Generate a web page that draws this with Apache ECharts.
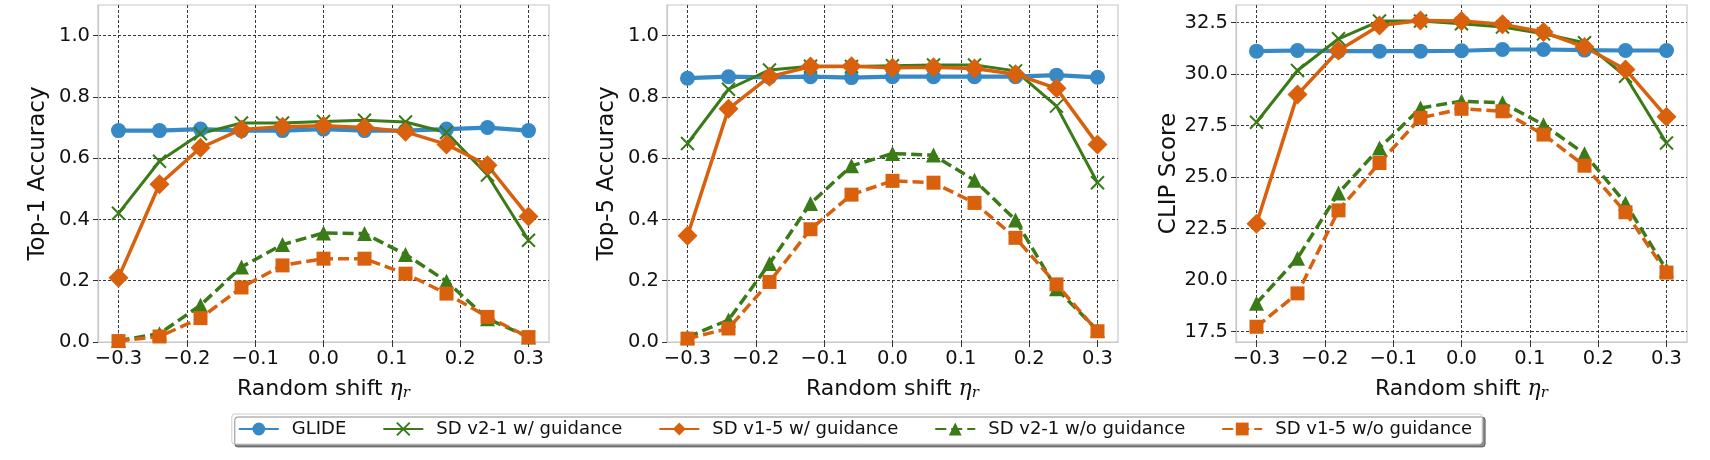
<!DOCTYPE html>
<html>
<head>
<meta charset="utf-8">
<script src="https://cdn.jsdelivr.net/npm/echarts@6/dist/echarts.min.js"></script>
<style>
html,body{margin:0;padding:0;background:#fff}
#main{width:1710px;height:460px}
</style>
</head>
<body>
<div id="main"></div>
<script>
// 横轴：随机偏移
var shifts = [-0.3, -0.24, -0.18, -0.12, -0.06, 0, 0.06, 0.12, 0.18, 0.24, 0.3];
var xTicks = [-0.3, -0.2, -0.1, 0, 0.1, 0.2, 0.3];
var accTicks = [0, 0.2, 0.4, 0.6, 0.8, 1.0];
var clipTicks = [17.5, 20, 22.5, 25, 27.5, 30, 32.5];

var seriesNames = ['GLIDE', 'SD v2-1 w/ guidance', 'SD v1-5 w/ guidance', 'SD v2-1 w/o guidance', 'SD v1-5 w/o guidance'];

// Top-1
var top1Glide = [0.69, 0.69, 0.695, 0.69, 0.69, 0.695, 0.69, 0.69, 0.695, 0.70, 0.69];
var top1V21 = [0.42, 0.59, 0.68, 0.715, 0.715, 0.72, 0.724, 0.718, 0.684, 0.545, 0.332];
var top1V15 = [0.21, 0.515, 0.634, 0.694, 0.703, 0.706, 0.70, 0.686, 0.645, 0.577, 0.41];
var top1V21No = [0.005, 0.027, 0.12, 0.245, 0.318, 0.356, 0.354, 0.286, 0.198, 0.076, 0.016];
var top1V15No = [0.003, 0.018, 0.078, 0.178, 0.25, 0.272, 0.272, 0.223, 0.158, 0.082, 0.016];

// Top-5
var top5Glide = [0.861, 0.866, 0.864, 0.866, 0.863, 0.866, 0.866, 0.866, 0.866, 0.871, 0.864];
var top5V21 = [0.648, 0.825, 0.888, 0.90, 0.899, 0.902, 0.904, 0.904, 0.885, 0.77, 0.52];
var top5V15 = [0.347, 0.761, 0.866, 0.899, 0.90, 0.895, 0.897, 0.893, 0.874, 0.828, 0.645];
var top5V21No = [0.016, 0.072, 0.256, 0.452, 0.575, 0.615, 0.61, 0.528, 0.398, 0.174, 0.038];
var top5V15No = [0.011, 0.044, 0.196, 0.368, 0.481, 0.526, 0.52, 0.454, 0.34, 0.188, 0.035];

// CLIP
var clipGlide = [31.12, 31.15, 31.12, 31.12, 31.12, 31.14, 31.2, 31.2, 31.17, 31.15, 31.15];
var clipV21 = [27.67, 30.18, 31.72, 32.58, 32.58, 32.45, 32.29, 31.96, 31.53, 29.9, 26.66];
var clipV15 = [22.74, 29.01, 31.15, 32.37, 32.61, 32.58, 32.42, 32.05, 31.32, 30.23, 27.93];
var clipV21No = [18.88, 21.07, 24.23, 26.42, 28.36, 28.69, 28.61, 27.55, 26.14, 23.74, 20.5];
var clipV15No = [17.74, 19.36, 23.39, 25.69, 27.88, 28.32, 28.2, 27.07, 25.56, 23.3, 20.37];

var BLUE = '#3689c4', GREEN = '#3a7b18', ORANGE = '#d9600c';
var FONT = 'DejaVu Sans';

function fmt(v) {
	return (v < 0 ? '\u2212' : '') + Math.abs(v).toFixed(1);
}

function pairs(arr) {
	return shifts.map(function (x, i) { return [x, arr[i]]; });
}

// 每个子图的五条线
function makeSeries(idx, glide, v21, v15, v21no, v15no) {
	return [
		{name: seriesNames[0], type: 'line', xAxisIndex: idx, yAxisIndex: idx, data: pairs(glide),
			symbol: 'circle', symbolSize: 15, lineStyle: {color: BLUE, width: 4.2}, itemStyle: {color: BLUE}},
		{name: seriesNames[1], type: 'line', xAxisIndex: idx, yAxisIndex: idx, data: pairs(v21),
			symbol: 'path://M0,0L10,10M10,0L0,10', symbolSize: 13, lineStyle: {color: GREEN, width: 3},
			itemStyle: {color: GREEN, borderColor: GREEN, borderWidth: 2}},
		{name: seriesNames[2], type: 'line', xAxisIndex: idx, yAxisIndex: idx, data: pairs(v15),
			symbol: 'diamond', symbolSize: 20, lineStyle: {color: ORANGE, width: 3.5}, itemStyle: {color: ORANGE}},
		{name: seriesNames[3], type: 'line', xAxisIndex: idx, yAxisIndex: idx, data: pairs(v21no),
			symbol: 'triangle', symbolSize: 15, lineStyle: {color: GREEN, width: 3.5, type: [11, 5]}, itemStyle: {color: GREEN}},
		{name: seriesNames[4], type: 'line', xAxisIndex: idx, yAxisIndex: idx, data: pairs(v15no),
			symbol: 'rect', symbolSize: 14, lineStyle: {color: ORANGE, width: 3.5, type: [11, 5]}, itemStyle: {color: ORANGE}}
	];
}

function makeX(idx) {
	return {
		gridIndex: idx, type: 'value', min: -0.33, max: 0.33,
		axisLine: {show: true, onZero: false, lineStyle: {color: '#c8c8c8', width: 1.2}},
		axisTick: {show: true, length: 5, customValues: xTicks, lineStyle: {color: '#333'}},
		axisLabel: {customValues: xTicks, formatter: fmt, fontSize: 19.5, fontFamily: FONT, color: '#111', margin: 7},
		splitLine: {show: true, lineStyle: {color: '#222', width: 0.9, type: [3, 2]}},
		name: '{t|Random shift }{e|\u03b7}{r|r}', nameLocation: 'middle', nameGap: 35,
		nameTextStyle: {
			rich: {
				t: {fontSize: 22, fontFamily: FONT, color: '#111'},
				e: {fontSize: 22, fontFamily: 'DejaVu Serif', fontStyle: 'italic', color: '#111'},
				r: {fontSize: 15, fontFamily: 'DejaVu Serif', fontStyle: 'italic', color: '#111', padding: [9, 0, 0, 0]}
			}
		}
	};
}

function makeY(idx, name, min, max, ticks) {
	return {
		gridIndex: idx, type: 'value', min: min, max: max,
		axisLine: {show: true, onZero: false, lineStyle: {color: '#c8c8c8', width: 1.2}},
		axisTick: {show: true, length: 5, customValues: ticks, lineStyle: {color: '#333'}},
		axisLabel: {customValues: ticks, formatter: fmt, fontSize: 19.5, fontFamily: FONT, color: '#111', margin: 8},
		splitLine: {show: true, lineStyle: {color: '#222', width: 0.9, type: [3, 2]}},
		name: name, nameLocation: 'middle', nameGap: 48,
		nameTextStyle: {fontSize: 23, fontFamily: FONT, color: '#111'}
	};
}

var gridBase = {top: 5, height: 337, width: 451, show: true, borderColor: '#c8c8c8', borderWidth: 1.2, backgroundColor: '#fff'};

var myChart = echarts.init(document.getElementById('main'), null, {renderer: 'canvas'});
myChart.setOption({
	animation: false,
	backgroundColor: '#fff',
	textStyle: {fontFamily: FONT},
	grid: [
		Object.assign({left: 98}, gridBase),
		Object.assign({left: 667}, gridBase),
		Object.assign({left: 1236}, gridBase)
	],
	xAxis: [makeX(0), makeX(1), makeX(2)],
	yAxis: [
		makeY(0, 'Top-1 Accuracy', 0, 1.1, accTicks),
		makeY(1, 'Top-5 Accuracy', 0, 1.1, accTicks),
		makeY(2, 'CLIP Score', 17.0, 33.36, clipTicks)
	],
	legend: {
		data: seriesNames,
		left: 'center', top: 414,
		itemWidth: 40, itemHeight: 16, itemGap: 36,
		textStyle: {fontSize: 18, fontFamily: FONT, color: '#111', padding: [0, 0, 0, 8]},
		padding: [6, 10, 6, 6],
		backgroundColor: '#fff',
		borderColor: '#cccccc', borderWidth: 1, borderRadius: 3,
		shadowColor: 'rgba(0,0,0,0.45)', shadowBlur: 0, shadowOffsetX: 3, shadowOffsetY: 3
	},
	series: [].concat(
		makeSeries(0, top1Glide, top1V21, top1V15, top1V21No, top1V15No),
		makeSeries(1, top5Glide, top5V21, top5V15, top5V21No, top5V15No),
		makeSeries(2, clipGlide, clipV21, clipV15, clipV21No, clipV15No)
	)
});
</script>
</body>
</html>
